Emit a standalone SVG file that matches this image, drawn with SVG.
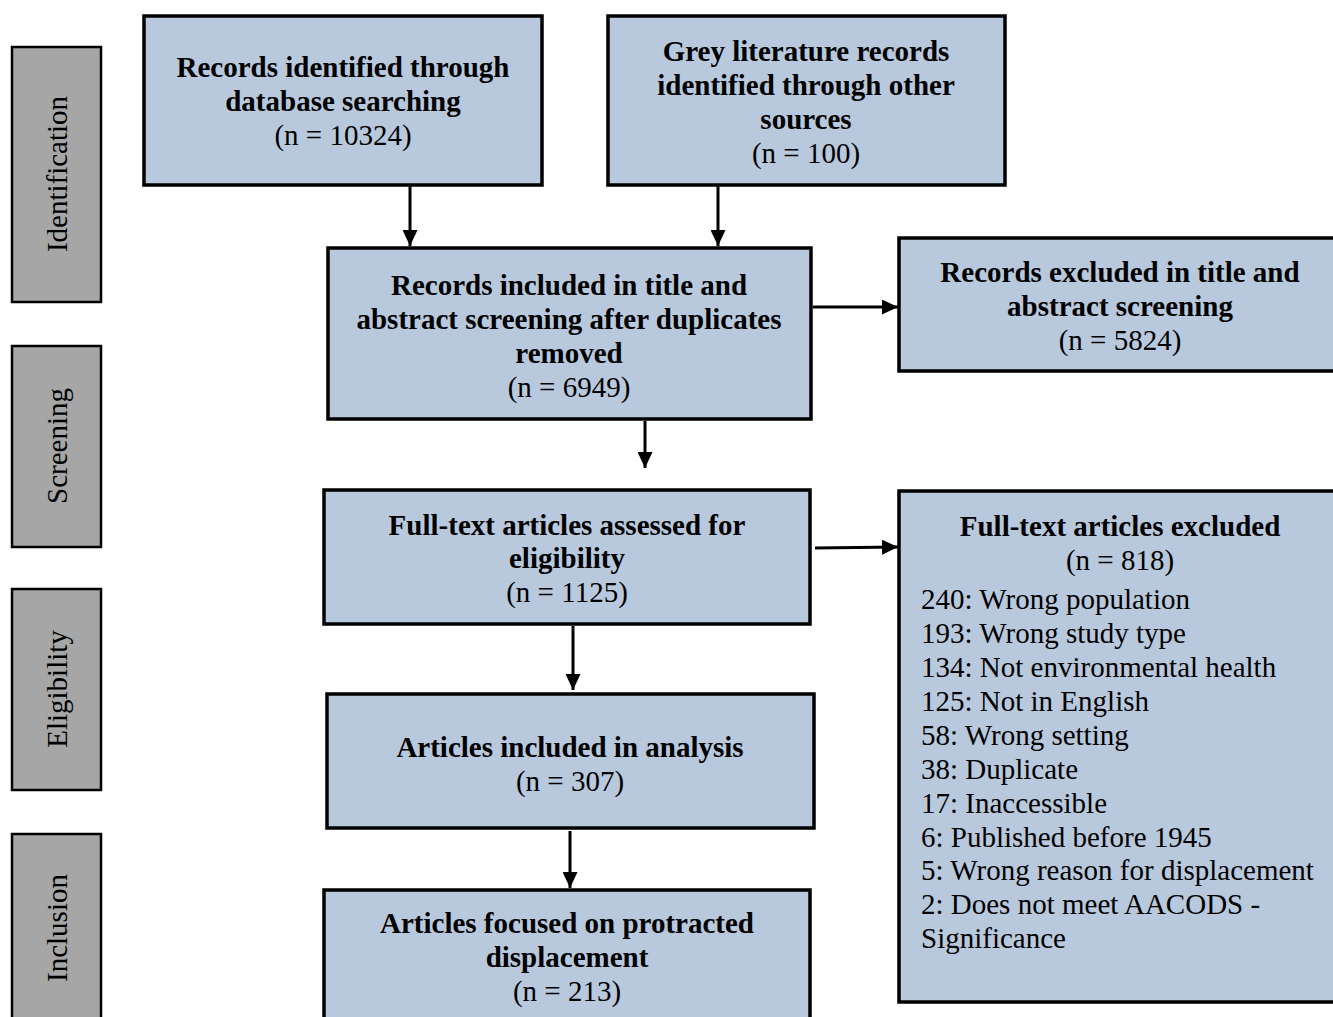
<svg xmlns="http://www.w3.org/2000/svg" width="1333" height="1017" viewBox="0 0 1333 1017">
<style>
.box{fill:#b9c9dd;stroke:#000;stroke-width:3.5}
.side{fill:#a6a6a6;stroke:#000;stroke-width:2.5}
text{font-family:"Liberation Serif","Times New Roman",serif;font-size:29px;fill:#000}
.b{font-weight:bold}
.c{text-anchor:middle}
.conn{stroke:#000;stroke-width:3;fill:none;marker-end:url(#ah)}
</style>
<defs>
<marker id="ah" markerUnits="userSpaceOnUse" markerWidth="16" markerHeight="15" refX="16" refY="7.5" orient="auto">
<path d="M0,0 L16,7.5 L0,15 z" fill="#000"/>
</marker>
</defs>
<rect width="1333" height="1017" fill="#fff"/>
<g id="phase-identification">
<rect class="side" x="12" y="47" width="89" height="255"/>
<text class="c" transform="translate(67,174) rotate(-90)">Identification</text>
</g>
<g id="phase-screening">
<rect class="side" x="12" y="346" width="89" height="201"/>
<text class="c" transform="translate(67,446) rotate(-90)">Screening</text>
</g>
<g id="phase-eligibility">
<rect class="side" x="12" y="589" width="89" height="201"/>
<text class="c" transform="translate(67,689) rotate(-90)">Eligibility</text>
</g>
<g id="phase-inclusion">
<rect class="side" x="12" y="834" width="89" height="190"/>
<text class="c" transform="translate(67,928) rotate(-90)">Inclusion</text>
</g>
<g id="connectors">
<line class="conn" x1="410" y1="186" x2="410" y2="246"/>
<line class="conn" x1="718" y1="186" x2="718" y2="246"/>
<line class="conn" x1="813" y1="307" x2="898" y2="307"/>
<line class="conn" x1="645" y1="421" x2="645" y2="468"/>
<line class="conn" x1="815" y1="548" x2="898" y2="547"/>
<line class="conn" x1="573" y1="626" x2="573" y2="690"/>
<line class="conn" x1="570" y1="831" x2="570" y2="888"/>
</g>
<g id="db-records">
<rect class="box" x="144" y="16" width="398" height="169"/>
<text class="c b" x="343" y="77">Records identified through</text>
<text class="c b" x="343" y="111">database searching</text>
<text class="c" x="343" y="145">(n = 10324)</text>
</g>
<g id="grey-records">
<rect class="box" x="608" y="16" width="397" height="169"/>
<text class="c b" x="806" y="61">Grey literature records</text>
<text class="c b" x="806" y="95">identified through other</text>
<text class="c b" x="806" y="129">sources</text>
<text class="c" x="806" y="163">(n = 100)</text>
</g>
<g id="screened">
<rect class="box" x="328" y="248" width="483" height="171"/>
<text class="c b" x="569" y="295">Records included in title and</text>
<text class="c b" x="569" y="329">abstract screening after duplicates</text>
<text class="c b" x="569" y="363">removed</text>
<text class="c" x="569" y="397">(n = 6949)</text>
</g>
<g id="excluded-screening">
<rect class="box" x="899" y="238" width="443" height="133"/>
<text class="c b" x="1120" y="282">Records excluded in title and</text>
<text class="c b" x="1120" y="316">abstract screening</text>
<text class="c" x="1120" y="350">(n = 5824)</text>
</g>
<g id="fulltext-assessed">
<rect class="box" x="324" y="490" width="486" height="134"/>
<text class="c b" x="567" y="535">Full-text articles assessed for</text>
<text class="c b" x="567" y="568">eligibility</text>
<text class="c" x="567" y="602">(n = 1125)</text>
</g>
<g id="fulltext-excluded">
<rect class="box" x="899" y="491" width="443" height="511"/>
<text class="c b" x="1120" y="536">Full-text articles excluded</text>
<text class="c" x="1120" y="570">(n = 818)</text>
<text x="921" y="609">240: Wrong population</text>
<text x="921" y="643">193: Wrong study type</text>
<text x="921" y="677">134: Not environmental health</text>
<text x="921" y="711">125: Not in English</text>
<text x="921" y="745">58: Wrong setting</text>
<text x="921" y="779">38: Duplicate</text>
<text x="921" y="813">17: Inaccessible</text>
<text x="921" y="847">6: Published before 1945</text>
<text x="921" y="880">5: Wrong reason for displacement</text>
<text x="921" y="914">2: Does not meet AACODS -</text>
<text x="921" y="948">Significance</text>
</g>
<g id="included">
<rect class="box" x="327" y="694" width="487" height="134"/>
<text class="c b" x="570" y="757">Articles included in analysis</text>
<text class="c" x="570" y="791">(n = 307)</text>
</g>
<g id="protracted">
<rect class="box" x="324" y="890" width="486" height="140"/>
<text class="c b" x="567" y="933">Articles focused on protracted</text>
<text class="c b" x="567" y="967">displacement</text>
<text class="c" x="567" y="1001">(n = 213)</text>
</g>
</svg>
